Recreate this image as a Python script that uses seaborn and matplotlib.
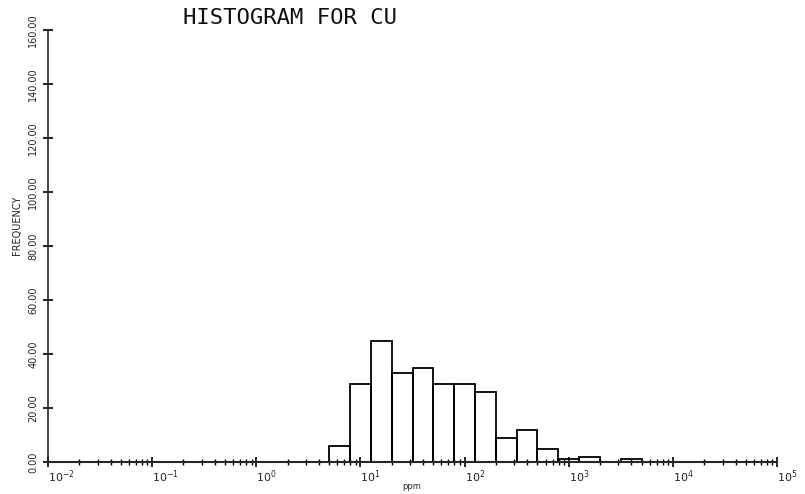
import numpy as np
import matplotlib
matplotlib.use("Agg")
import matplotlib.pyplot as plt
import matplotlib.ticker as mticker
import seaborn as sns

# histogram of Cu (ppm), log bins of 0.2 decade
bin_edges_log = [0.7, 0.9, 1.1, 1.3, 1.5, 1.7, 1.9, 2.1, 2.3, 2.5, 2.7, 2.9, 3.1, 3.3, 3.5, 3.7]
counts = [6, 29, 45, 33, 35, 29, 29, 26, 9, 12, 5, 1, 2, 0, 1]
y_ticks = [0, 20, 40, 60, 80, 100, 120, 140, 160]
x_decades = [-2, -1, 0, 1, 2, 3, 4, 5]

edges = [10 ** e for e in bin_edges_log]
centers = [10 ** ((a + b) / 2) for a, b in zip(bin_edges_log[:-1], bin_edges_log[1:])]

sns.set_style("ticks")
plt.rcParams['font.family'] = ['DejaVu Sans']

fig = plt.figure(figsize=(8.05, 4.94), dpi=100)
ax = fig.add_axes([48 / 805, 32 / 494, 729 / 805, 432 / 494])

sns.histplot(x=centers, weights=counts, bins=edges, fill=False, element="bars",
             color="black", linewidth=1.3, ax=ax)

ax.set_xscale("log")
ax.set_xlim(10 ** x_decades[0], 10 ** x_decades[-1])
ax.set_ylim(0, y_ticks[-1])
ax.set_xticks([10.0 ** d for d in x_decades])
ax.set_xticklabels([f"$10^{{{d}}}$" for d in x_decades], fontsize=8)
ax.xaxis.set_minor_locator(mticker.LogLocator(base=10, subs=np.arange(2, 10)))
ax.xaxis.set_minor_formatter(mticker.NullFormatter())
ax.set_yticks(y_ticks)
ax.set_yticklabels([f"{v:.2f}" for v in y_ticks], rotation=90, va="center", fontsize=7)

ax.tick_params(axis="both", which="major", direction="inout", length=7, width=1.2, color="black")
ax.tick_params(axis="x", which="minor", direction="inout", length=4, width=1.0, color="black")
ax.tick_params(axis="x", pad=1)
for lbl in ax.get_xticklabels():
    lbl.set_horizontalalignment("left")

sns.despine(ax=ax)
ax.spines["left"].set_linewidth(1.2)
ax.spines["bottom"].set_linewidth(1.5)

ax.set_xlabel("ppm", fontsize=6)
ax.xaxis.set_label_coords((412 - 48) / 729, -(482 - 462) / 432)
ax.set_ylabel("FREQUENCY", fontsize=7)
ax.yaxis.set_label_coords(-(48 - 22) / 729, (462 - 225) / 432)

fig.text(183 / 805, 1 - 18 / 494, "HISTOGRAM FOR CU", fontsize=16,
         family="DejaVu Sans Mono", va="center", ha="left", color="#111111")

fig.savefig("out.png", dpi=100)
